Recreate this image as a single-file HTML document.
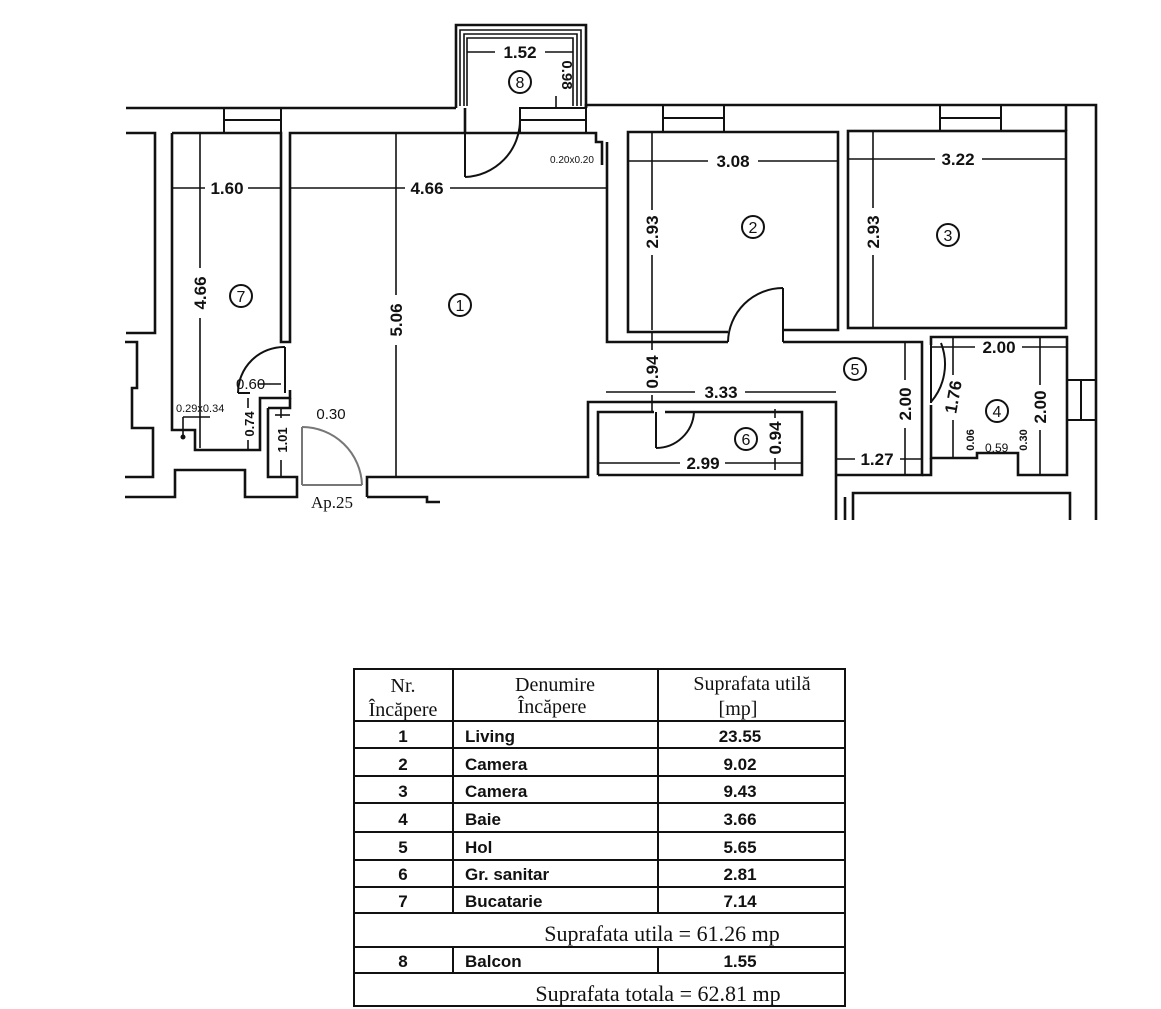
<!DOCTYPE html>
<html><head><meta charset="utf-8"><style>
html,body{margin:0;padding:0;background:#fff;}
svg{display:block;}
text{font-family:"Liberation Sans",sans-serif;fill:#111;}
.s{font-family:"Liberation Serif",serif;}
</style></head><body>
<svg width="1161" height="1009" viewBox="0 0 1161 1009" xmlns="http://www.w3.org/2000/svg">
<g fill="none" stroke="#111" stroke-width="2.6" stroke-linejoin="miter">
<polyline points="126,108 456,108"/>
<polyline points="586,108 586,105 1096,105 1096,520"/>
<polyline points="456,108 456,25 586,25 586,108"/>
<polyline points="460,106 460,30 581,30 581,106" stroke-width="1.6"/>
<polyline points="464,106 464,34 577,34 577,106" stroke-width="1.6"/>
<polyline points="467,106 467,38 573,38 573,106" stroke-width="1.6"/>
<rect x="224" y="108" width="57" height="25" stroke-width="2"/><line x1="224" y1="120" x2="281" y2="120" stroke-width="2"/>
<rect x="520" y="108" width="66" height="25" stroke-width="2"/><line x1="520" y1="120" x2="586" y2="120" stroke-width="2"/>
<rect x="663" y="105" width="61" height="27" stroke-width="2"/><line x1="663" y1="118" x2="724" y2="118" stroke-width="2"/>
<rect x="940" y="105" width="61" height="26" stroke-width="2"/><line x1="940" y1="118" x2="1001" y2="118" stroke-width="2"/>
<rect x="1067" y="380" width="29" height="40" stroke-width="2"/><line x1="1081" y1="380" x2="1081" y2="420" stroke-width="2"/>
<polyline points="126,133 155,133 155,333 126,333"/>
<polyline points="125,342 137,342 137,388 132,388 132,428 153,428 153,477 125,477"/>
<polyline points="172,133 281,133 281,342 290,342 290,133 596,133 596,142 602,142 602,165"/>
<polyline points="172,133 172,430 195,430 195,450 260,450 260,398 290,398 290,390"/>
<line x1="465" y1="108" x2="465" y2="133"/>
<polyline points="268,408 290,408 290,398"/>
<polyline points="268,408 268,477 297,477 297,497 245,497 245,470 175,470 175,497 125,497"/>
<polyline points="367,497 367,477 588,477 588,402 836,402 836,520"/>
<polyline points="367,497 427,497 427,502 440,502"/>
<polyline points="607,142 607,342 728,342"/>
<polyline points="783,342 922,342 922,475 836,475"/>
<polyline points="728,332 628,332 628,132 838,132 838,330 783,330"/>
<rect x="848" y="131" width="218" height="197"/>
<line x1="1066" y1="131" x2="1066" y2="105"/>
<polyline points="598,475 598,412 654,412"/>
<polyline points="665,412 802,412 802,475 598,475"/>
<polyline points="931,345 931,337 1067,337 1067,475 1018,475 1018,453 977,453 977,458 931,458 931,405"/>
<polyline points="922,475 931,475 931,458"/>
<polyline points="853,520 853,493 1070,493 1070,520"/>
<polyline points="845,497 845,520"/>
</g>
<g fill="none" stroke="#111" stroke-width="2">
<line x1="465" y1="120" x2="465" y2="177"/><path d="M465,177 A57,57 0 0 0 520,120"/>
<line x1="285" y1="347" x2="285" y2="393"/><path d="M285,347 A46,46 0 0 0 238,393"/><line x1="238" y1="393" x2="250" y2="393"/>
<line x1="783" y1="288" x2="783" y2="342"/><path d="M783,288 A55,55 0 0 0 728,342"/>
<line x1="656" y1="412" x2="656" y2="448"/><path d="M656,448 A38,38 0 0 0 694,412"/>
<line x1="931" y1="403" x2="931" y2="345"/><path d="M941,343 A58,58 0 0 1 931,402"/>
</g>
<g fill="none" stroke="#777" stroke-width="2">
<line x1="302" y1="427" x2="302" y2="485"/><path d="M302,427 A60,60 0 0 1 362,485"/><line x1="302" y1="485" x2="362" y2="485"/>
</g>
<g stroke="#111" stroke-width="1.6">
<line x1="172" y1="188" x2="205" y2="188"/><line x1="248" y1="188" x2="281" y2="188"/>
<line x1="290" y1="188" x2="405" y2="188"/><line x1="450" y1="188" x2="607" y2="188"/>
<line x1="200" y1="133" x2="200" y2="268"/><line x1="200" y1="318" x2="200" y2="448"/>
<line x1="396" y1="133" x2="396" y2="295"/><line x1="396" y1="345" x2="396" y2="476"/>
<line x1="467" y1="52" x2="495" y2="52"/><line x1="545" y1="52" x2="573" y2="52"/>
<line x1="556" y1="96" x2="556" y2="108"/>
<line x1="628" y1="161" x2="708" y2="161"/><line x1="758" y1="161" x2="838" y2="161"/>
<line x1="848" y1="159" x2="935" y2="159"/><line x1="982" y1="159" x2="1066" y2="159"/>
<line x1="652" y1="132" x2="652" y2="210"/><line x1="652" y1="255" x2="652" y2="330"/>
<line x1="873" y1="131" x2="873" y2="208"/><line x1="873" y1="255" x2="873" y2="328"/>
<line x1="652" y1="332" x2="652" y2="350"/><line x1="652" y1="395" x2="652" y2="412"/>
<line x1="606" y1="392" x2="695" y2="392"/><line x1="745" y1="392" x2="836" y2="392"/>
<line x1="598" y1="463" x2="680" y2="463"/><line x1="725" y1="463" x2="802" y2="463"/>
<line x1="775" y1="409" x2="775" y2="418"/><line x1="775" y1="458" x2="775" y2="470"/>
<line x1="836" y1="459" x2="855" y2="459"/><line x1="900" y1="459" x2="922" y2="459"/>
<line x1="905" y1="342" x2="905" y2="380"/><line x1="905" y1="428" x2="905" y2="475"/>
<line x1="931" y1="347" x2="975" y2="347"/><line x1="1022" y1="347" x2="1067" y2="347"/>
<line x1="953" y1="337" x2="953" y2="375"/><line x1="953" y1="420" x2="953" y2="458"/>
<line x1="1040" y1="337" x2="1040" y2="385"/><line x1="1040" y1="430" x2="1040" y2="475"/>
<line x1="248" y1="398" x2="248" y2="408"/><line x1="248" y1="440" x2="248" y2="450"/>
<line x1="281" y1="408" x2="281" y2="418"/><line x1="281" y1="460" x2="281" y2="477"/>
<line x1="275" y1="415" x2="290" y2="415"/>
<line x1="183" y1="417" x2="210" y2="417"/><line x1="183" y1="417" x2="183" y2="437"/>
<line x1="258" y1="384" x2="281" y2="384"/>
</g>
<circle cx="183" cy="437" r="2.5" fill="#111"/>
<g fill="none" stroke="#111" stroke-width="2">
<circle cx="520" cy="82" r="11"/><circle cx="241" cy="296" r="11"/><circle cx="460" cy="305" r="11"/>
<circle cx="753" cy="227" r="11"/><circle cx="948" cy="235" r="11"/><circle cx="855" cy="369" r="11"/>
<circle cx="997" cy="411" r="11"/><circle cx="746" cy="439" r="11"/>
</g>
<g font-size="16" text-anchor="middle">
<text x="520" y="88">8</text><text x="241" y="302">7</text><text x="460" y="311">1</text>
<text x="753" y="233">2</text><text x="948" y="241">3</text><text x="855" y="375">5</text>
<text x="997" y="417">4</text><text x="746" y="445">6</text>
</g>
<g font-size="17" text-anchor="middle" style="font-weight:bold">
<text x="227" y="194">1.60</text><text x="427" y="194">4.66</text>
<text x="520" y="58">1.52</text>
<text x="733" y="167">3.08</text><text x="958" y="165">3.22</text>
<text x="721" y="398">3.33</text><text x="703" y="469">2.99</text>
<text x="877" y="465">1.27</text><text x="999" y="353">2.00</text>
</g>
<text x="331" y="419" font-size="15" text-anchor="middle">0.30</text>
<text x="236" y="389" font-size="15" fill="#666">0.60</text>
<text x="332" y="508" class="s" font-size="17" text-anchor="middle">Ap.25</text>
<g font-size="17" text-anchor="middle" style="font-weight:bold">
<text transform="translate(206,293) rotate(-90)">4.66</text>
<text transform="translate(402,320) rotate(-90)">5.06</text>
<text transform="translate(562,75) rotate(90)" font-size="15">0.98</text>
<text transform="translate(658,232) rotate(-90)">2.93</text>
<text transform="translate(879,232) rotate(-90)">2.93</text>
<text transform="translate(658,372) rotate(-90)">0.94</text>
<text transform="translate(781,438) rotate(-90)">0.94</text>
<text transform="translate(911,404) rotate(-90)">2.00</text>
<text transform="translate(1046,407) rotate(-90)">2.00</text>
<text transform="translate(959,398) rotate(-80)">1.76</text>
<text transform="translate(254,424) rotate(-90)" font-size="13">0.74</text>
<text transform="translate(287,440) rotate(-90)" font-size="13">1.01</text>
<text transform="translate(974,440) rotate(-90)" font-size="11">0.06</text>
<text transform="translate(1027,440) rotate(-90)" font-size="11">0.30</text>
</g>
<text x="985" y="452" font-size="12">0.59</text>
<text x="176" y="412" font-size="11">0.29x0.34</text>
<text x="550" y="163" font-size="10" fill="#555">0.20x0.20</text>
<g stroke="#111" stroke-width="2" fill="none">
<rect x="354" y="669" width="491" height="337"/>
<line x1="453" y1="669" x2="453" y2="913"/><line x1="658" y1="669" x2="658" y2="913"/>
<line x1="453" y1="947" x2="453" y2="973"/><line x1="658" y1="947" x2="658" y2="973"/>
<line x1="354" y1="721" x2="845" y2="721"/><line x1="354" y1="748" x2="845" y2="748"/>
<line x1="354" y1="776" x2="845" y2="776"/><line x1="354" y1="803" x2="845" y2="803"/>
<line x1="354" y1="832" x2="845" y2="832"/><line x1="354" y1="860" x2="845" y2="860"/>
<line x1="354" y1="887" x2="845" y2="887"/><line x1="354" y1="913" x2="845" y2="913"/>
<line x1="354" y1="947" x2="845" y2="947"/><line x1="354" y1="973" x2="845" y2="973"/>
</g>
<g font-size="20" text-anchor="middle">
<text x="403" y="692" class="s">Nr.</text><text x="403" y="716" class="s">Încăpere</text>
<text x="555" y="691" class="s">Denumire</text><text x="552" y="713" class="s">Încăpere</text>
<text x="752" y="690" class="s">Suprafata utilă</text><text x="738" y="715" class="s">[mp]</text>
<text x="662" y="941" class="s" font-size="22">Suprafata utila = 61.26 mp</text>
<text x="658" y="1001" class="s" font-size="22">Suprafata totala = 62.81 mp</text>
</g>
<g font-size="17" style="font-weight:bold">
<g text-anchor="middle">
<text x="403" y="742">1</text><text x="403" y="770">2</text><text x="403" y="797">3</text>
<text x="403" y="825">4</text><text x="403" y="853">5</text><text x="403" y="880">6</text>
<text x="403" y="907">7</text><text x="403" y="967">8</text>
<text x="740" y="742">23.55</text><text x="740" y="770">9.02</text><text x="740" y="797">9.43</text>
<text x="740" y="825">3.66</text><text x="740" y="853">5.65</text><text x="740" y="880">2.81</text>
<text x="740" y="907">7.14</text><text x="740" y="967">1.55</text>
</g>
<text x="465" y="742">Living</text><text x="465" y="770">Camera</text><text x="465" y="797">Camera</text>
<text x="465" y="825">Baie</text><text x="465" y="853">Hol</text><text x="465" y="880">Gr.  sanitar</text>
<text x="465" y="907">Bucatarie</text><text x="465" y="967">Balcon</text>
</g>
</svg>
</body></html>
